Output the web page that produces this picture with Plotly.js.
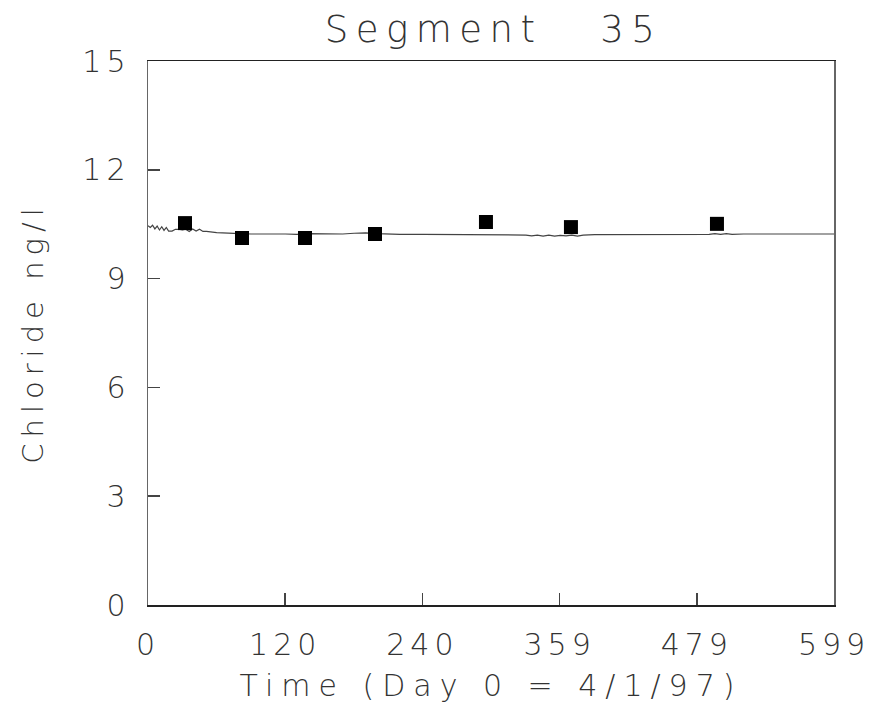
<!DOCTYPE html>
<html>
<head>
<meta charset="utf-8">
<script src="https://cdn.plot.ly/plotly-3.0.1.min.js"></script>
<style>
html,body{margin:0;padding:0;background:#fff;}
#chart{width:875px;height:719px;}
#chart .gtitle{letter-spacing:7.5px;}
#chart .xtitle{letter-spacing:8px;}
#chart .ytitle{letter-spacing:6px;}
#chart .xtick text, #chart .ytick text{letter-spacing:5px;}
</style>
</head>
<body>
<div id="chart"></div>
<script>
// Model line (days since 4/1/97, chloride)
var modelDays = [0,2,4,6,8,10,12,14,16,18,21,24,27,30,33,36,39,42,45,48,51,55,60,65,70,80,90,100,110,120,130,140,150,160,170,180,190,200,210,220,240,260,280,300,320,330,335,340,345,350,355,360,365,370,375,380,390,400,420,440,460,480,490,495,500,505,510,520,530,540,550,560,570,580,590,599];
var modelVals = [10.46,10.41,10.47,10.37,10.45,10.34,10.43,10.33,10.41,10.31,10.31,10.36,10.36,10.34,10.36,10.30,10.37,10.31,10.36,10.30,10.30,10.28,10.27,10.26,10.25,10.24,10.23,10.24,10.23,10.23,10.22,10.24,10.23,10.24,10.23,10.25,10.26,10.24,10.22,10.22,10.22,10.22,10.22,10.22,10.22,10.20,10.18,10.20,10.17,10.20,10.17,10.19,10.18,10.20,10.17,10.20,10.21,10.21,10.21,10.21,10.21,10.21,10.22,10.24,10.22,10.24,10.22,10.23,10.23,10.24,10.23,10.23,10.22,10.23,10.23,10.23];
// Observations
var obsDays = [32.3,82.1,137.1,198.2,295.1,369.3,496.8];
var obsVals = [10.53,10.12,10.12,10.23,10.56,10.42,10.51];
// Axis ticks
var xTickVals = [0,119.8,239.6,359.4,479.2,599];
var xTickText = ["0","120","240","359","479","599"];
var yTickVals = [0,3,6,9,12,15];

var fontFam = "'DejaVu Sans', sans-serif";
var traces = [
  {x: modelDays, y: modelVals, type: 'scatter', mode: 'lines',
   line: {color: '#444', width: 1.2}, hoverinfo: 'skip'},
  {x: obsDays, y: obsVals, type: 'scatter', mode: 'markers',
   marker: {symbol: 'square', size: 14, color: '#000'}}
];
var layout = {
  width: 875, height: 719,
  margin: {l: 148, r: 41, t: 61, b: 114},
  showlegend: false,
  paper_bgcolor: '#fff', plot_bgcolor: '#fff',
  title: {text: 'Segment   35', x: 0.564, xanchor: 'center', y: 0.96, yanchor: 'middle',
          font: {family: fontFam, size: 37, color: '#333', weight: 200}},
  xaxis: {range: [0, 599], tickvals: xTickVals, ticktext: xTickText,
          ticks: 'inside', ticklen: 12, tickcolor: '#444', tickwidth: 1.5,
          showline: true, linecolor: '#222', linewidth: 1.5, mirror: true,
          showgrid: false, zeroline: false, ticklabelstandoff: 12,
          tickfont: {family: fontFam, size: 30, color: '#333', weight: 200},
          title: {text: 'Time (Day 0 = 4/1/97)', standoff: 14,
                  font: {family: fontFam, size: 30, color: '#333', weight: 200}}},
  yaxis: {range: [0, 15], tickvals: yTickVals,
          ticks: 'inside', ticklen: 12, tickcolor: '#444', tickwidth: 1.5,
          showline: true, linecolor: '#666', linewidth: 1.5, mirror: true,
          showgrid: false, zeroline: false, ticklabelstandoff: 10,
          tickfont: {family: fontFam, size: 30, color: '#333', weight: 200},
          title: {text: 'Chloride ng/l', standoff: 40,
                  font: {family: fontFam, size: 29, color: '#333', weight: 200}}}
};
Plotly.newPlot('chart', traces, layout, {displayModeBar: false, staticPlot: true});
</script>
</body>
</html>
